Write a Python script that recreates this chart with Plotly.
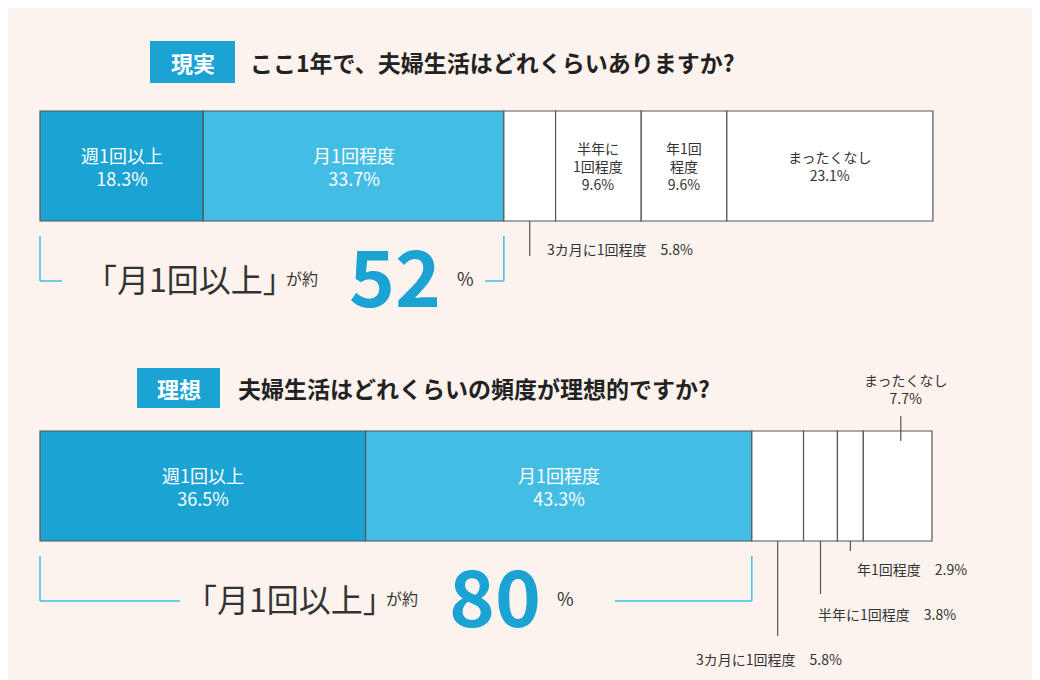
import plotly.graph_objects as go

cats = ["週1回以上", "月1回程度", "3カ月に1回程度", "半年に1回程度", "年1回程度", "まったくなし"]
real = [18.3, 33.7, 5.8, 9.6, 9.6, 23.1]
ideal = [36.5, 43.3, 5.8, 3.8, 2.9, 7.7]
colors = ["#1ba3d3", "#44bde5", "white", "white", "white", "white"]

F = "Noto Sans CJK JP"
BG = "#fcf3ee"
BLUE = "#1ba3d3"
O = 8
X0, SC = 40 - O, 8.92
def P(p): return (p - O) / 1040

fig = go.Figure()
for vals, yc in [(real, 150), (ideal, 470)]:
    for i, v in enumerate(vals):
        fig.add_trace(go.Bar(x=[v], y=[yc], base=[sum(vals[:i])], width=110, orientation="h",
                             marker=dict(color=colors[i], line=dict(color="#555", width=1.2)),
                             showlegend=False, hoverinfo="skip"))

ann = []
def T(x, y, t, s=17, c="#333", bold=False, xa="center", xr="x"):
    ann.append(dict(x=x, y=y, xref=xr, yref="y", text=f"<b>{t}</b>" if bold else t, showarrow=False,
                    font=dict(family=F, size=s, color=c), xanchor=xa, yanchor="middle"))

def cum(vals, i): return sum(vals[:i]) + vals[i] / 2
T(cum(real, 0), 150, "週1回以上<br>18.3%", 18, "white")
T(cum(real, 1), 150, "月1回程度<br>33.7%", 18, "white")
T(cum(real, 3), 150, "半年に<br>1回程度<br>9.6%", 14)
T(cum(real, 4), 150, "年1回<br>程度<br>9.6%", 14)
T(cum(real, 5), 150, "まったくなし<br>23.1%", 14)
T(cum(real, 2) + 1.7, 233, "3カ月に1回程度　5.8%", 14, xa="left")
T(cum(ideal, 0), 470, "週1回以上<br>36.5%", 18, "white")
T(cum(ideal, 1), 470, "月1回程度<br>43.3%", 18, "white")
T(97, 373, "まったくなし<br>7.7%", 14)
T(cum(ideal, 4) + 0.5, 553, "年1回程度　2.9%", 14, xa="left")
T(cum(ideal, 3) - 0.5, 598, "半年に1回程度　3.8%", 14, xa="left")
T(cum(ideal, 2) - 9.4, 643, "3カ月に1回程度　5.8%", 14, xa="left")

shapes = []
def L(x0, y0, x1, y1, c="#555", w=1.2):
    shapes.append(dict(type="line", xref="x", yref="y", x0=x0, y0=y0, x1=x1, y1=y1, line=dict(color=c, width=w)))
L(cum(real, 2), 205, cum(real, 2), 240)
L(cum(ideal, 2), 525, cum(ideal, 2), 620)
L(cum(ideal, 3), 525, cum(ideal, 3), 578)
L(cum(ideal, 4), 525, cum(ideal, 4), 535)
L(96.5, 400, 96.5, 425)

for (a, b, y, pct, lx, top, gl, gr) in [(0, real[0]+real[1], 265, "52", 190, 220, 62, 485),
                                        (0, ideal[0]+ideal[1], 585, "80", 290, 540, 180, 615)]:
    L(a, top, a, y, "#44bde5", 1.5)
    L(b, top, b, y, "#44bde5", 1.5)
    L(a, y, (gl - 40) / SC, y, "#44bde5", 1.5)
    L((gr - 40) / SC, y, b, y, "#44bde5", 1.5)
    T(P(lx), y - 3, "「月1回以上」", 32, "#333", xr="paper")
    T(P(lx + 112), y - 3, "が約", 16, xr="paper")
    T(P(lx + 205), y - 8, pct, 78, BLUE, bold=True, xr="paper")
    T(P(lx + 275), y - 3, "%", 18, xr="paper")

for (bx0, bx1, y0, y1, t, title, tx) in [(150, 235, 25, 67, "現実", "ここ1年で、夫婦生活はどれくらいありますか?", 248),
                                          (137, 220, 352, 392, "理想", "夫婦生活はどれくらいの頻度が理想的ですか?", 236)]:
    shapes.append(dict(type="rect", xref="paper", yref="y", x0=P(bx0), x1=P(bx1), y0=y0, y1=y1,
                       fillcolor=BLUE, line=dict(width=0), layer="below"))
    T(P((bx0+bx1)/2), (y0+y1)/2, t, 22, "white", True, xr="paper")
    T(P(tx), (y0+y1)/2, title, 23, "#222", True, "left", "paper")

fig.update_layout(width=1040, height=680, margin=dict(l=0, r=0, t=0, b=0), barmode="overlay",
                  paper_bgcolor=BG, plot_bgcolor=BG, annotations=ann, shapes=shapes,
                  xaxis=dict(range=[-X0/SC, (1040-X0)/SC], visible=False, fixedrange=True),
                  yaxis=dict(range=[680 - O, -O], visible=False, fixedrange=True))
fig.write_html("out.html")
